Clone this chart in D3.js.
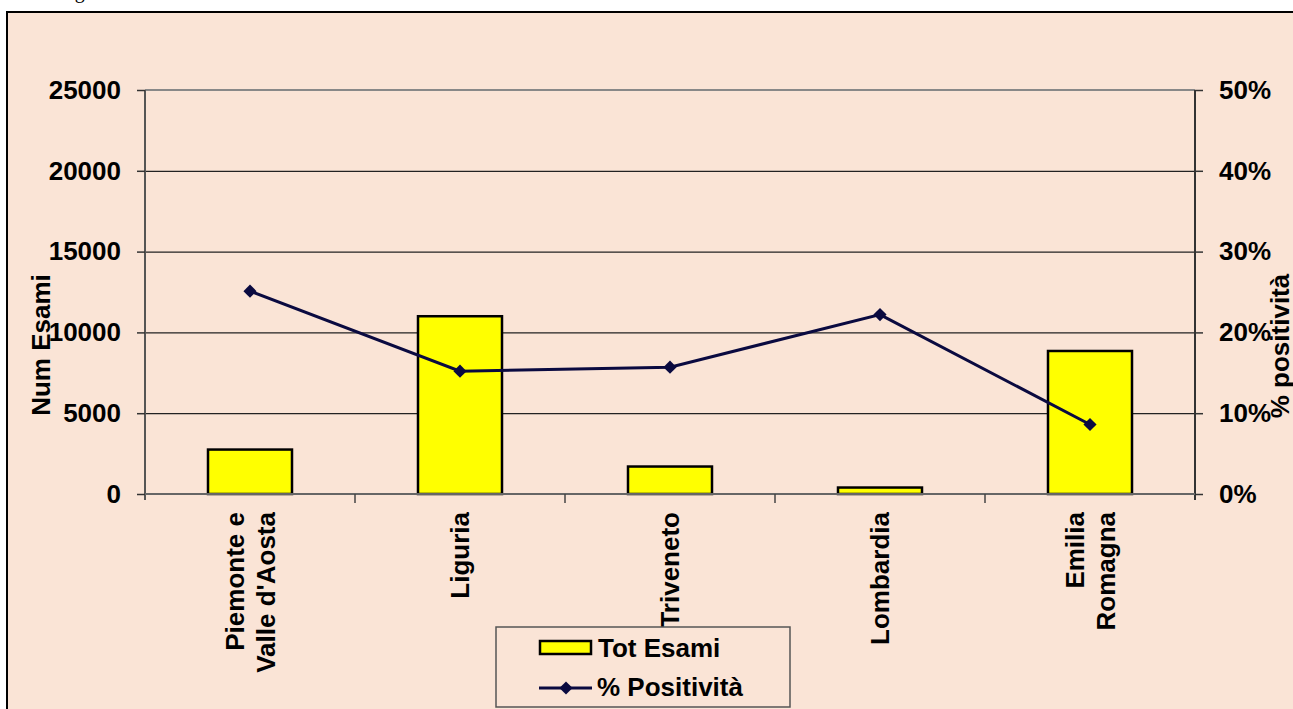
<!DOCTYPE html>
<html>
<head>
<meta charset="utf-8">
<script src="https://cdn.jsdelivr.net/npm/d3@7"></script>
<style>
  body { margin: 0; background: #fff; }
  svg { display: block; font-family: "Liberation Sans", Arial, sans-serif; }
  .lbl { font-weight: bold; font-size: 26px; fill: #000; }
</style>
</head>
<body>
<svg id="chart" width="1293" height="709"></svg>
<script>
// data
var regions = ["Piemonte e\nValle d'Aosta", "Liguria", "Triveneto", "Lombardia", "Emilia\nRomagna"];
var totEsami = [2750, 11000, 1700, 400, 8850];
var positivita = [0.251, 0.152, 0.157, 0.222, 0.086];
var leftTicks = [0, 5000, 10000, 15000, 20000, 25000];
var rightTicks = [0, 0.1, 0.2, 0.3, 0.4, 0.5];

var svg = d3.select("#chart");
var plot = { left: 145, right: 1195, top: 90, bottom: 494 };

// page title, cut off at the top as in the source page
svg.append("text")
  .attr("x", 58).attr("y", -2)
  .attr("font-family", "Liberation Serif, serif")
  .attr("font-size", 20)
  .text("Figura");

// chart area
svg.append("rect")
  .attr("x", 7).attr("y", 12)
  .attr("width", 1300).attr("height", 710)
  .attr("fill", "#fae4d6")
  .attr("stroke", "#000")
  .attr("stroke-width", 2);

var x = d3.scaleBand()
  .domain(regions)
  .range([plot.left, plot.right])
  .paddingInner(0.6)
  .paddingOuter(0.3);

var yL = d3.scaleLinear().domain([0, 25000]).range([plot.bottom, plot.top]);
var yR = d3.scaleLinear().domain([0, 0.5]).range([plot.bottom, plot.top]);

// gridlines
svg.append("g")
  .attr("transform", "translate(" + plot.left + ",0)")
  .call(d3.axisLeft(yL).tickValues(leftTicks).tickSize(-(plot.right - plot.left)).tickFormat(""))
  .call(function (g) {
    g.select(".domain").remove();
    g.selectAll("line").attr("stroke", "#222").attr("stroke-width", 1.2);
  });

// plot top border
svg.append("line")
  .attr("x1", plot.left).attr("x2", plot.right)
  .attr("y1", plot.top).attr("y2", plot.top)
  .attr("stroke", "#888").attr("stroke-width", 2);

// bars
svg.append("g").selectAll("rect")
  .data(totEsami)
  .join("rect")
  .attr("x", function (d, i) { return x(regions[i]); })
  .attr("y", function (d) { return yL(d); })
  .attr("width", x.bandwidth())
  .attr("height", function (d) { return yL(0) - yL(d); })
  .attr("fill", "#ffff00")
  .attr("stroke", "#000")
  .attr("stroke-width", 2.5);

function styleAxis(g) {
  g.selectAll("line").attr("stroke", "#333").attr("stroke-width", 1.5);
  g.selectAll("text").attr("font-size", 26).attr("font-weight", "bold").attr("fill", "#000")
    .attr("font-family", "Liberation Sans, Arial, sans-serif");
}

// left axis
svg.append("g")
  .attr("transform", "translate(" + plot.left + ",0)")
  .call(d3.axisLeft(yL).tickValues(leftTicks).tickSize(8).tickPadding(16).tickFormat(d3.format("d")))
  .call(function (g) {
    g.select(".domain").attr("stroke", "#555").attr("stroke-width", 2).attr("d", "M0," + plot.top + "V" + (plot.bottom + 6));
    styleAxis(g);
  });

// right axis
svg.append("g")
  .attr("transform", "translate(" + plot.right + ",0)")
  .call(d3.axisRight(yR).tickValues(rightTicks).tickSize(8).tickPadding(16).tickFormat(d3.format(".0%")))
  .call(function (g) {
    g.select(".domain").attr("stroke", "#333").attr("stroke-width", 2).attr("d", "M0," + plot.top + "V" + (plot.bottom + 6));
    styleAxis(g);
  });

// category axis, ticks between the categories
var step = x.step();
svg.append("line")
  .attr("x1", plot.left).attr("x2", plot.right)
  .attr("y1", plot.bottom).attr("y2", plot.bottom)
  .attr("stroke", "#666").attr("stroke-width", 2);
svg.append("g").selectAll("line")
  .data(regions.slice(1))
  .join("line")
  .attr("x1", function (d) { return x(d) + x.bandwidth() / 2 - step / 2; })
  .attr("x2", function (d) { return x(d) + x.bandwidth() / 2 - step / 2; })
  .attr("y1", plot.bottom).attr("y2", plot.bottom + 9)
  .attr("stroke", "#444").attr("stroke-width", 1.5);

svg.append("g").selectAll("text")
  .data(regions)
  .join("text")
  .attr("class", "lbl")
  .attr("text-anchor", "end")
  .attr("transform", function (d) { return "translate(" + (x(d) + x.bandwidth() / 2) + ",512) rotate(-90)"; })
  .each(function (d) {
    var lines = d.split("\n");
    var t = d3.select(this);
    lines.forEach(function (line, i) {
      t.append("tspan")
        .attr("x", 0)
        .attr("y", (i - (lines.length - 1) / 2) * 31 + 9)
        .text(line);
    });
  });

// line series
var cx = function (d, i) { return x(regions[i]) + x.bandwidth() / 2; };
svg.append("path")
  .datum(positivita)
  .attr("fill", "none")
  .attr("stroke", "#0a0a40")
  .attr("stroke-width", 3)
  .attr("d", d3.line().x(cx).y(function (d) { return yR(d); }));

var diamond = d3.symbol().type(d3.symbolDiamond2).size(110);
svg.append("g").selectAll("path")
  .data(positivita)
  .join("path")
  .attr("transform", function (d, i) { return "translate(" + cx(d, i) + "," + yR(d) + ")"; })
  .attr("d", diamond)
  .attr("fill", "#0a0a40");

// axis titles
svg.append("text")
  .attr("class", "lbl")
  .attr("text-anchor", "middle")
  .attr("transform", "translate(50,345) rotate(-90)")
  .text("Num Esami");
svg.append("text")
  .attr("class", "lbl")
  .attr("text-anchor", "middle")
  .attr("font-size", 25)
  .attr("transform", "translate(1289,346) rotate(-90)")
  .text("% positività");

// legend
var lg = svg.append("g");
lg.append("rect")
  .attr("x", 496).attr("y", 627)
  .attr("width", 294).attr("height", 80)
  .attr("fill", "#fae4d6")
  .attr("stroke", "#555").attr("stroke-width", 1.5);
lg.append("rect")
  .attr("x", 540).attr("y", 641)
  .attr("width", 51).attr("height", 13)
  .attr("fill", "#ffff00")
  .attr("stroke", "#000").attr("stroke-width", 2.5);
lg.append("text").attr("class", "lbl").attr("x", 598).attr("y", 657).text("Tot Esami");
lg.append("line")
  .attr("x1", 539).attr("x2", 592)
  .attr("y1", 688).attr("y2", 688)
  .attr("stroke", "#0a0a40").attr("stroke-width", 3);
lg.append("path")
  .attr("transform", "translate(566,688)")
  .attr("d", diamond)
  .attr("fill", "#0a0a40");
lg.append("text").attr("class", "lbl").attr("x", 597).attr("y", 696).text("% Positività");
</script>
</body>
</html>
